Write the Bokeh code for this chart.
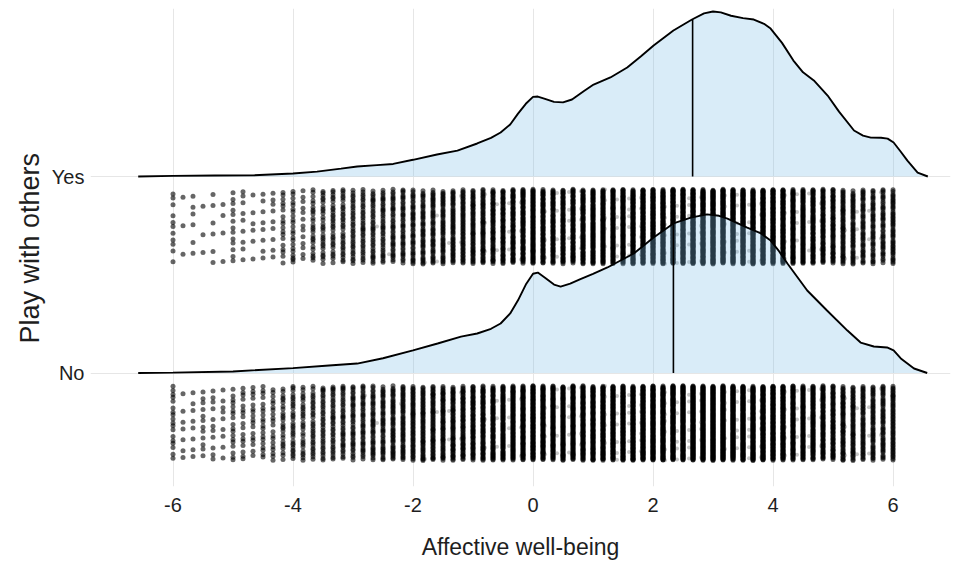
import numpy as np
from bokeh.plotting import figure
from bokeh.models import Range1d, FixedTicker, Title
from bokeh.embed import file_html
from bokeh.resources import INLINE

# ---- data -------------------------------------------------------------
groups = ["No", "Yes"]
group_base = {"No": 0.0, "Yes": 1.0}
x_ticks = [-6, -4, -2, 0, 2, 4, 6]

# response levels of the well-being score (steps of 1/6 from -6 to 6)
levels = np.round(np.arange(-36, 37) / 6.0, 4)

# number of respondents at each level
yes_counts = [11, 3, 6, 3, 6, 4, 13, 9, 6, 8, 9, 18, 22, 13, 25,
              28, 30, 32, 34, 35, 37, 38, 40, 42, 44, 46, 48, 50, 52, 55,
              58, 60, 64, 68, 72, 78, 90, 76, 74, 75, 78, 82, 86, 90, 94,
              98, 104, 110, 116, 120, 124, 128, 130, 132, 134, 133, 131, 130, 128, 124,
              120, 108, 98, 88, 80, 72, 66, 58, 52, 48, 46, 44, 50]
no_counts = [18, 7, 8, 12, 11, 9, 18, 17, 17, 20, 20, 25, 30, 28, 32,
             35, 36, 38, 40, 42, 44, 46, 50, 53, 56, 58, 60, 62, 64, 66,
             70, 74, 78, 84, 90, 98, 112, 100, 96, 95, 97, 100, 104, 108, 112,
             116, 120, 125, 130, 134, 137, 140, 142, 143, 144, 143, 141, 138, 134, 130,
             124, 114, 104, 94, 86, 78, 70, 64, 58, 54, 52, 50, 56]

# respondents with a five-item score (steps of 0.2), fewer and fainter
levels_5 = np.round(np.arange(-30, 31) / 5.0, 4)
yes_counts_5 = [0] * 15 + [1, 0, 1, 1, 0, 1, 1, 2, 1, 2,
                           2, 3, 2, 3, 3, 4, 3, 4, 4, 5, 4,
                           5, 5, 6, 5, 6, 6, 5, 6, 6, 5,
                           5, 6, 5, 5, 4, 4, 4, 3, 3, 3,
                           2, 3, 2, 2, 0]
no_counts_5 = [0] * 15 + [0, 1, 1, 0, 1, 2, 1, 1, 2, 2,
                          3, 2, 3, 4, 3, 3, 4, 4, 5, 4, 5,
                          5, 6, 6, 7, 6, 7, 6, 7, 7, 6,
                          6, 6, 7, 6, 5, 5, 5, 4, 4, 3,
                          3, 2, 3, 2, 0]

# ridge heights of the density estimate (in ridge units above the baseline)
yes_dens_x = [-6.58, -6.0, -5.3, -4.66, -4.0, -3.6, -3.2, -2.93, -2.6, -2.33,
              -2.0, -1.6, -1.26, -0.93, -0.7, -0.54, -0.38, -0.25, -0.12, 0.0,
              0.08, 0.2, 0.35, 0.5, 0.65, 0.85, 1.01, 1.29, 1.57, 1.8,
              2.01, 2.34, 2.65, 2.85, 3.0, 3.13, 3.3, 3.5, 3.68, 3.85,
              3.96, 4.15, 4.34, 4.5, 4.68, 4.91, 5.1, 5.35, 5.5, 5.63,
              5.8, 5.91, 6.01, 6.12, 6.24, 6.41, 6.58]
yes_dens_h = [0.0, 0.003, 0.005, 0.006, 0.015, 0.025, 0.040, 0.051, 0.058, 0.064,
              0.085, 0.112, 0.132, 0.168, 0.197, 0.224, 0.265, 0.320, 0.370, 0.405,
              0.407, 0.395, 0.380, 0.377, 0.392, 0.435, 0.468, 0.504, 0.555, 0.612,
              0.667, 0.743, 0.799, 0.830, 0.840, 0.835, 0.818, 0.806, 0.799, 0.777,
              0.753, 0.680, 0.590, 0.530, 0.489, 0.412, 0.330, 0.234, 0.208, 0.198,
              0.197, 0.193, 0.173, 0.130, 0.081, 0.020, 0.0]

no_dens_x = [-6.58, -6.0, -5.0, -4.0, -3.4, -2.93, -2.5, -2.0, -1.59, -1.2,
             -0.93, -0.7, -0.54, -0.38, -0.25, -0.12, 0.0, 0.08, 0.2, 0.35,
             0.46, 0.62, 0.79, 1.0, 1.24, 1.68, 2.01, 2.34, 2.63, 2.9,
             3.1, 3.24, 3.57, 3.8, 3.96, 4.1, 4.24, 4.57, 4.9, 5.24,
             5.46, 5.68, 5.9, 6.01, 6.13, 6.35, 6.57]
no_dens_h = [0.0, 0.002, 0.008, 0.025, 0.038, 0.048, 0.075, 0.115, 0.150, 0.185,
             0.201, 0.225, 0.252, 0.303, 0.370, 0.450, 0.505, 0.511, 0.485, 0.450,
             0.440, 0.455, 0.478, 0.505, 0.537, 0.608, 0.690, 0.761, 0.791, 0.807,
             0.800, 0.786, 0.740, 0.710, 0.674, 0.620, 0.557, 0.420, 0.318, 0.216,
             0.155, 0.135, 0.130, 0.115, 0.074, 0.023, 0.0]

medians = {"Yes": 2.66, "No": 2.34}

counts = {"Yes": yes_counts, "No": no_counts}
counts_5 = {"Yes": yes_counts_5, "No": no_counts_5}
dens = {"Yes": (yes_dens_x, yes_dens_h), "No": (no_dens_x, no_dens_h)}

# ---- styling ----------------------------------------------------------
FONT = "Liberation Sans"
TEXT = "#1e1e1e"
GRID = "#e6e6e6"
FILL = "#80c0e8"

X0, X1 = -7.375, 6.958
p = figure(width=957, height=566, output_backend="svg", toolbar_location=None,
           x_range=Range1d(X0, X1), y_range=Range1d(-0.5776, 1.855),
           min_border_left=90, min_border_right=7, min_border_top=8,
           min_border_bottom=80)
p.outline_line_color = None
p.background_fill_color = "white"

p.xaxis.ticker = FixedTicker(ticks=x_ticks)
p.xaxis.major_label_overrides = {t: str(t) for t in x_ticks}
p.yaxis.ticker = FixedTicker(ticks=[group_base[g] for g in groups])
p.yaxis.major_label_overrides = {group_base[g]: g for g in groups}
p.xgrid.ticker = FixedTicker(ticks=x_ticks)
p.ygrid.ticker = FixedTicker(ticks=[group_base[g] for g in groups])

for ax in (p.xaxis, p.yaxis):
    ax.axis_line_color = None
    ax.major_tick_line_color = None
    ax.minor_tick_line_color = None
    ax.major_label_text_font = FONT
    ax.major_label_text_font_size = "20px"
    ax.major_label_text_color = TEXT
    ax.axis_label_text_font = FONT
    ax.axis_label_text_font_style = "normal"
    ax.axis_label_text_color = TEXT

p.xaxis.axis_label = "Affective well-being"
p.xaxis.axis_label_text_font_size = "23px"
p.xaxis.major_label_standoff = 5
p.xaxis.axis_label_standoff = 19
p.yaxis.major_label_standoff = 0

# y-axis title, set beside the group labels
p.add_layout(Title(text="Play with others", align="left", offset=143,
                   standoff=8, text_font=FONT, text_font_size="27px",
                   text_font_style="normal", text_color=TEXT), "left")

p.xgrid.grid_line_color = GRID
p.ygrid.grid_line_color = GRID
p.xgrid.grid_line_width = 1
p.ygrid.grid_line_width = 1

# ---- raw responses: one column of dots per level, below each ridge ----
BAND_TOP, BAND_SPAN = 0.065, 0.38


def dot_columns(lvls, cnts, base, phase):
    xs, ys = [], []
    for k, (lv, n) in enumerate(zip(lvls, cnts)):
        i = np.arange(n)
        # spread the n dots of a level over the band
        u = np.mod(phase + 0.37 * k + i * 0.6180339887, 1.0)
        xs.append(np.full(n, lv))
        ys.append(base - (BAND_TOP + BAND_SPAN * u))
    return np.concatenate(xs), np.concatenate(ys)


for g in groups:
    fx, fy = dot_columns(levels_5, counts_5[g], group_base[g], 0.21)
    p.scatter(fx, fy, size=4, fill_color="black", fill_alpha=0.22, line_color=None)
    xs, ys = dot_columns(levels, counts[g], group_base[g], 0.5)
    p.scatter(xs, ys, size=5, fill_color="black", fill_alpha=0.6, line_color=None)

# ---- density ridges with the median marked ----------------------------
for g in ["Yes", "No"]:
    dx, dh = dens[g]
    base = group_base[g]
    top = base + np.array(dh)
    p.varea(x=dx, y1=[base] * len(dx), y2=top, fill_color=FILL, fill_alpha=0.3)
    p.line(dx, top, line_color="black", line_width=1.9)
    m = medians[g]
    p.segment(x0=[m], y0=[base], x1=[m], y1=[base + np.interp(m, dx, dh)],
              line_color="black", line_width=1.6)

open("out.html", "w").write(file_html(p, INLINE))
